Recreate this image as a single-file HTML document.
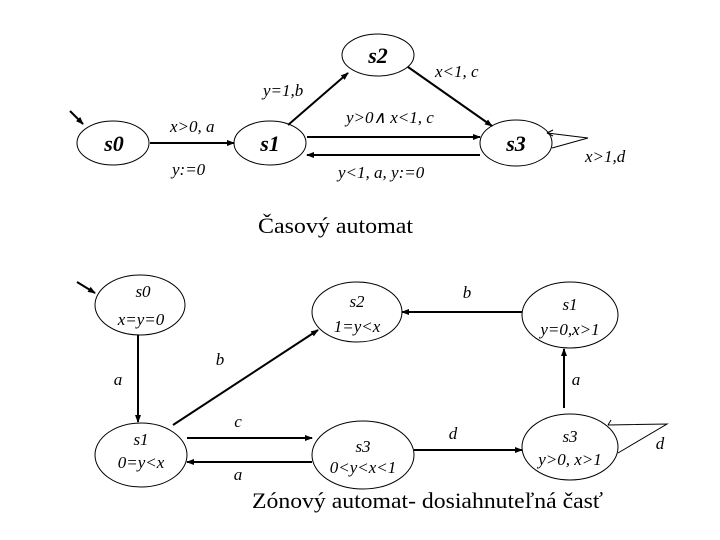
<!DOCTYPE html>
<html><head><meta charset="utf-8"><style>html,body{margin:0;padding:0;background:#fff}svg{display:block}</style></head>
<body>
<svg width="720" height="540" viewBox="0 0 720 540" xmlns="http://www.w3.org/2000/svg" font-family="Liberation Serif, serif">
<defs>
<marker id="ar" markerWidth="8" markerHeight="8" refX="7" refY="4" orient="auto" markerUnits="userSpaceOnUse"><path d="M0,1 L8,4 L0,7 Z" fill="#000"/></marker>
</defs>
<g fill="none" stroke="#000" stroke-width="1">
<ellipse cx="113" cy="143" rx="36" ry="22"/>
<ellipse cx="270" cy="143" rx="36" ry="22"/>
<ellipse cx="378" cy="55" rx="36" ry="21"/>
<ellipse cx="516" cy="143" rx="36" ry="23"/>
<ellipse cx="140" cy="305" rx="45" ry="30"/>
<ellipse cx="141" cy="455" rx="46" ry="32"/>
<ellipse cx="357" cy="312" rx="45" ry="30"/>
<ellipse cx="363" cy="455" rx="51" ry="34"/>
<ellipse cx="570" cy="315" rx="48" ry="33"/>
<ellipse cx="570" cy="447" rx="48" ry="33"/>
<polyline points="547,133 588,138 552,148"/>
<path d="M547,133 l6,-3 M547,133 l6,3"/>
<polyline points="608,425 667,424 618,453"/>
<path d="M608,425 l3,-5"/>
</g>
<g stroke="#000" stroke-width="2" fill="none" marker-end="url(#ar)">
<line x1="70" y1="111" x2="83" y2="124"/>
<line x1="150" y1="143" x2="234" y2="143"/>
<line x1="288" y1="125" x2="348" y2="73"/>
<line x1="408" y1="67" x2="492" y2="126"/>
<line x1="307" y1="137" x2="480" y2="137"/>
<line x1="480" y1="155" x2="307" y2="155"/>
<line x1="77" y1="282" x2="95" y2="293"/>
<line x1="138" y1="335" x2="138" y2="422"/>
<line x1="173" y1="425" x2="318" y2="330"/>
<line x1="187" y1="438" x2="312" y2="438"/>
<line x1="312" y1="462" x2="187" y2="462"/>
<line x1="414" y1="450" x2="522" y2="450"/>
<line x1="522" y1="312" x2="402" y2="312"/>
<line x1="564" y1="408" x2="564" y2="349"/>
</g>
<g font-style="italic" font-weight="bold" font-size="22" text-anchor="middle">
<text x="114" y="151">s0</text>
<text x="270" y="151">s1</text>
<text x="378" y="63">s2</text>
<text x="516" y="151">s3</text>
</g>
<g font-style="italic" font-size="17">
<text x="170" y="132">x&gt;0, <tspan>a</tspan></text>
<text x="172" y="175">y:=0</text>
<text x="263" y="96">y=1,b</text>
<text x="435" y="77">x&lt;1, c</text>
<text x="346" y="123">y&gt;0∧ x&lt;1, c</text>
<text x="338" y="178">y&lt;1, a, y:=0</text>
<text x="585" y="162">x&gt;1,d</text>
</g>
<g font-size="22">
<text x="258" y="233" textLength="155" lengthAdjust="spacingAndGlyphs">Časový automat</text>
<text x="252" y="508" textLength="351" lengthAdjust="spacingAndGlyphs">Zónový automat- dosiahnuteľná časť</text>
</g>
<g font-style="italic" font-size="17" text-anchor="middle">
<text x="143" y="297">s0</text>
<text x="141" y="325">x=y=0</text>
<text x="141" y="445">s1</text>
<text x="141" y="468">0=y&lt;x</text>
<text x="357" y="307">s2</text>
<text x="357" y="332">1=y&lt;x</text>
<text x="363" y="452">s3</text>
<text x="363" y="473">0&lt;y&lt;x&lt;1</text>
<text x="570" y="310">s1</text>
<text x="570" y="335">y=0,x&gt;1</text>
<text x="570" y="442">s3</text>
<text x="570" y="465">y&gt;0, x&gt;1</text>
<text x="118" y="385">a</text>
<text x="220" y="365">b</text>
<text x="238" y="427">c</text>
<text x="238" y="480">a</text>
<text x="467" y="298">b</text>
<text x="453" y="439">d</text>
<text x="576" y="385">a</text>
<text x="660" y="449">d</text>
</g>
</svg>
</body></html>
